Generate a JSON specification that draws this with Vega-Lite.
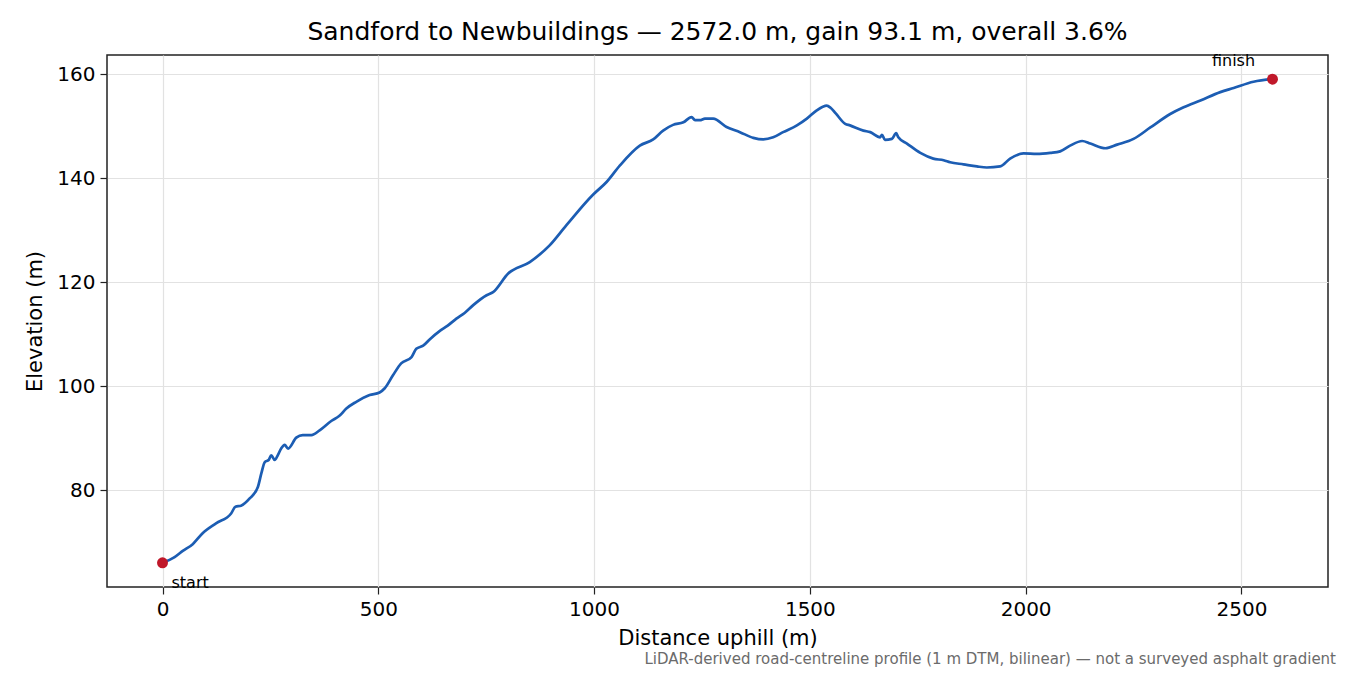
{
  "$schema": "https://vega.github.io/schema/vega-lite/v6.json",
  "autosize": "none",
  "width": 1221,
  "height": 532,
  "padding": {"left": 107, "right": 22, "top": 55, "bottom": 88},
  "background": "white",
  "config": {
    "font": "DejaVu Sans",
    "view": {"stroke": "#222222", "strokeWidth": 1.5},
    "axis": {
      "domain": false,
      "tickColor": "#222222",
      "tickSize": 7,
      "tickWidth": 1.2,
      "labelColor": "black",
      "labelFontSize": 20,
      "labelPadding": 5,
      "titleFontSize": 21,
      "titleFontWeight": "normal",
      "titleColor": "black",
      "gridColor": "#e2e2e2",
      "gridWidth": 1.2
    }
  },
  "title": {
    "text": "Sandford to Newbuildings — 2572.0 m, gain 93.1 m, overall 3.6%",
    "fontSize": 25,
    "fontWeight": "normal",
    "color": "black",
    "anchor": "middle",
    "offset": 8
  },
  "datasets": {
    "profile": [
      {"d": 0, "e": 66.0}, {"d": 28, "e": 67.1}, {"d": 47, "e": 68.3}, {"d": 70, "e": 69.6},
      {"d": 93, "e": 71.7}, {"d": 124, "e": 73.6}, {"d": 159, "e": 75.5}, {"d": 169, "e": 76.8},
      {"d": 182, "e": 77.0}, {"d": 202, "e": 78.4}, {"d": 221, "e": 80.6}, {"d": 229, "e": 83.2},
      {"d": 237, "e": 85.4}, {"d": 246, "e": 85.8}, {"d": 252, "e": 86.7}, {"d": 260, "e": 85.8},
      {"d": 267, "e": 86.7}, {"d": 275, "e": 88.0}, {"d": 283, "e": 88.7}, {"d": 291, "e": 88.0},
      {"d": 310, "e": 90.1}, {"d": 325, "e": 90.6}, {"d": 345, "e": 90.6}, {"d": 364, "e": 91.5},
      {"d": 391, "e": 93.3}, {"d": 410, "e": 94.3}, {"d": 426, "e": 95.7}, {"d": 449, "e": 97.0},
      {"d": 480, "e": 98.3}, {"d": 503, "e": 98.8}, {"d": 515, "e": 99.6}, {"d": 534, "e": 102.1},
      {"d": 553, "e": 104.4}, {"d": 577, "e": 105.6}, {"d": 588, "e": 107.2}, {"d": 604, "e": 107.8},
      {"d": 619, "e": 109.0}, {"d": 642, "e": 110.6}, {"d": 660, "e": 111.6}, {"d": 681, "e": 113.0},
      {"d": 700, "e": 114.1}, {"d": 720, "e": 115.6}, {"d": 751, "e": 117.5}, {"d": 766, "e": 118.1},
      {"d": 801, "e": 121.7}, {"d": 851, "e": 123.9}, {"d": 897, "e": 127.1}, {"d": 936, "e": 131.0},
      {"d": 998, "e": 136.9}, {"d": 1029, "e": 139.3}, {"d": 1060, "e": 142.5}, {"d": 1106, "e": 146.3},
      {"d": 1137, "e": 147.5}, {"d": 1160, "e": 149.2}, {"d": 1183, "e": 150.3}, {"d": 1207, "e": 150.8},
      {"d": 1226, "e": 151.8}, {"d": 1234, "e": 151.2}, {"d": 1245, "e": 151.2}, {"d": 1257, "e": 151.5},
      {"d": 1276, "e": 151.5}, {"d": 1307, "e": 149.9}, {"d": 1338, "e": 148.9}, {"d": 1369, "e": 147.8},
      {"d": 1392, "e": 147.5}, {"d": 1415, "e": 147.9}, {"d": 1438, "e": 148.9}, {"d": 1470, "e": 150.2},
      {"d": 1493, "e": 151.5}, {"d": 1516, "e": 153.1}, {"d": 1530, "e": 153.8}, {"d": 1539, "e": 154.0},
      {"d": 1548, "e": 153.6}, {"d": 1560, "e": 152.5}, {"d": 1582, "e": 150.5}, {"d": 1593, "e": 150.2},
      {"d": 1624, "e": 149.2}, {"d": 1640, "e": 148.9}, {"d": 1663, "e": 147.9}, {"d": 1667, "e": 148.4},
      {"d": 1674, "e": 147.4}, {"d": 1690, "e": 147.6}, {"d": 1700, "e": 148.7}, {"d": 1705, "e": 147.9},
      {"d": 1725, "e": 146.7}, {"d": 1756, "e": 144.9}, {"d": 1786, "e": 143.8}, {"d": 1810, "e": 143.5},
      {"d": 1825, "e": 143.1}, {"d": 1856, "e": 142.7}, {"d": 1887, "e": 142.3}, {"d": 1910, "e": 142.1},
      {"d": 1941, "e": 142.3}, {"d": 1964, "e": 143.8}, {"d": 1995, "e": 144.8}, {"d": 2026, "e": 144.7},
      {"d": 2057, "e": 144.9}, {"d": 2080, "e": 145.2}, {"d": 2103, "e": 146.3}, {"d": 2131, "e": 147.2},
      {"d": 2150, "e": 146.7}, {"d": 2185, "e": 145.8}, {"d": 2212, "e": 146.5}, {"d": 2250, "e": 147.6},
      {"d": 2289, "e": 149.8}, {"d": 2335, "e": 152.4}, {"d": 2366, "e": 153.7}, {"d": 2405, "e": 155.0},
      {"d": 2451, "e": 156.6}, {"d": 2482, "e": 157.4}, {"d": 2528, "e": 158.6}, {"d": 2572, "e": 159.1}
    ],
    "ends": [
      {"d": 0, "e": 66.0, "label": "start"},
      {"d": 2572, "e": 159.1, "label": "finish"}
    ],
    "note": [
      {"d": 2700.6, "e": 61.35, "text": "LiDAR-derived road-centreline profile (1 m DTM, bilinear) — not a surveyed asphalt gradient"}
    ]
  },
  "encoding": {
    "x": {
      "field": "d",
      "type": "quantitative",
      "title": "Distance uphill (m)",
      "scale": {"domain": [-128.6, 2700.6], "nice": false, "zero": false},
      "axis": {"values": [0, 500, 1000, 1500, 2000, 2500], "format": "d", "titlePadding": 8}
    },
    "y": {
      "field": "e",
      "type": "quantitative",
      "title": "Elevation (m)",
      "scale": {"domain": [61.35, 163.75], "nice": false, "zero": false},
      "axis": {"values": [80, 100, 120, 140, 160], "format": "d", "titlePadding": 11}
    }
  },
  "layer": [
    {
      "data": {"name": "profile"},
      "mark": {"type": "line", "color": "#1c5db3", "strokeWidth": 2.7, "interpolate": "monotone"}
    },
    {
      "data": {"name": "ends"},
      "mark": {"type": "circle", "color": "#c0182a", "opacity": 1, "size": 120}
    },
    {
      "data": {"name": "ends"},
      "transform": [{"filter": "datum.label == 'start'"}],
      "mark": {"type": "text", "fontSize": 16, "align": "left", "baseline": "alphabetic", "dx": 9, "dy": 25, "color": "black"},
      "encoding": {"text": {"field": "label"}}
    },
    {
      "data": {"name": "ends"},
      "transform": [{"filter": "datum.label == 'finish'"}],
      "mark": {"type": "text", "fontSize": 16, "align": "center", "baseline": "alphabetic", "dx": -39, "dy": -13, "color": "black"},
      "encoding": {"text": {"field": "label"}}
    },
    {
      "data": {"name": "note"},
      "mark": {"type": "text", "fontSize": 15, "align": "right", "baseline": "alphabetic", "dx": 8, "dy": 77, "color": "#6b6b6b"},
      "encoding": {"text": {"field": "text"}}
    }
  ]
}
